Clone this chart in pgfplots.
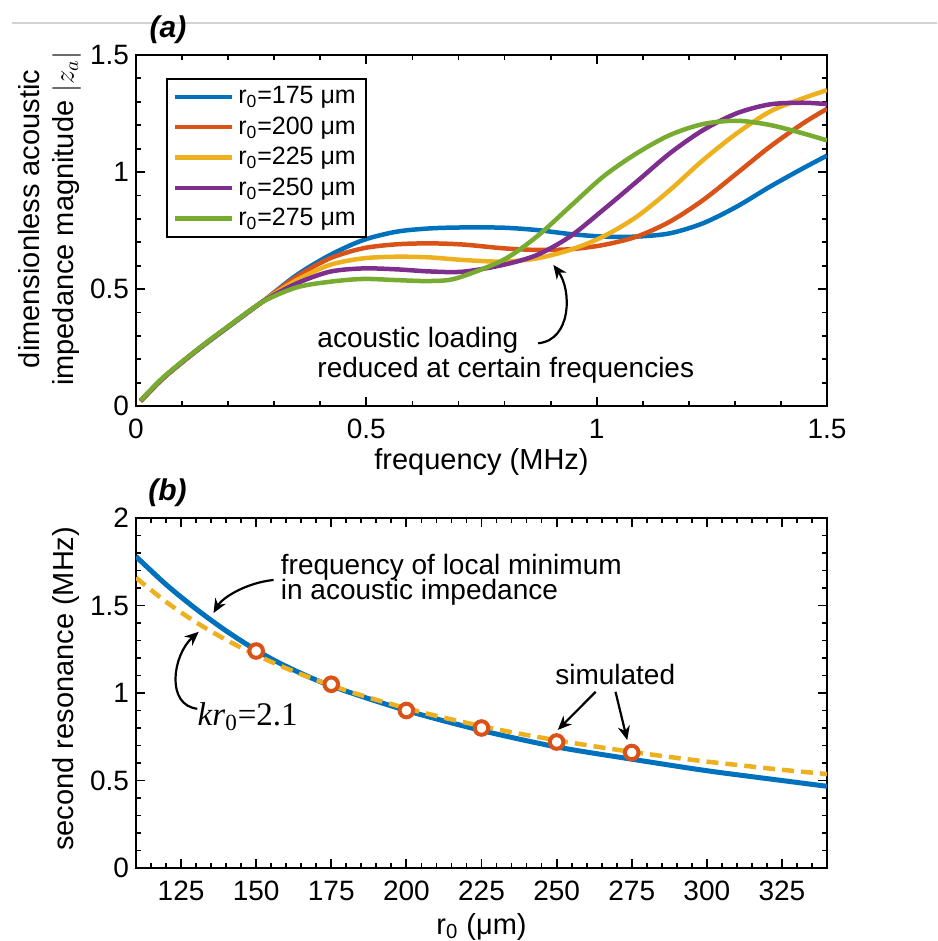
\documentclass[border=0pt]{standalone}
\usepackage{fontspec}
\setmainfont{Liberation Sans}
\newfontfamily\serifface{Liberation Serif}
\usepackage{pgfplots}
\pgfplotsset{compat=1.18}
\usetikzlibrary{arrows.meta}
\definecolor{mblue}{rgb}{0,0.447,0.741}
\definecolor{mred}{rgb}{0.85,0.325,0.098}
\definecolor{myellow}{rgb}{0.929,0.694,0.125}
\definecolor{mpurple}{rgb}{0.494,0.184,0.556}
\definecolor{mgreen}{rgb}{0.466,0.674,0.188}
\pgfplotsset{
  myaxis/.style={
    scale only axis, width=345.5pt,
    axis line style={line width=0.9pt},
    every tick/.style={black, line width=0.9pt},
    major tick length=4.5pt, minor tick length=2.5pt,
    tick align=inside,
    /pgf/number format/assume math mode=true,
    tick label style={font=\fontsize{14}{16}\selectfont},
    xticklabel style={yshift=-3pt},
    label style={font=\fontsize{14.5}{17}\selectfont},
  }
}
\tikzset{annarrow/.style={line width=1.1pt, -{Stealth[length=7pt,width=6pt]}}}
\begin{document}
\begin{tikzpicture}
\path[use as bounding box] (0pt,0pt) rectangle (468.5pt,-470.5pt);
\draw[gray!35, line width=0.6pt] (6pt,-11.5pt) -- (468.5pt,-11.5pt);
\node[font=\fontsize{15}{17}\selectfont\bfseries\itshape] at (84pt,-14.75pt) {(a)};
\node[font=\fontsize{15}{17}\selectfont\bfseries\itshape] at (83.75pt,-246.25pt) {(b)};

\begin{axis}[myaxis, at={(68pt,-203pt)}, anchor=south west, height=175.5pt,
  xmin=0, xmax=1.5, ymin=0, ymax=1.5,
  xtick={0,0.5,1,1.5}, ytick={0,0.5,1,1.5},
  minor xtick={0.1,0.2,0.3,0.4,0.6,0.7,0.8,0.9,1.1,1.2,1.3,1.4},
  minor ytick={0.1,0.2,0.3,0.4,0.6,0.7,0.8,0.9,1.1,1.2,1.3,1.4},
  xlabel={frequency (MHz)},
  ylabel={dimensionless acoustic\\impedance magnitude $|z_a|$},
  ylabel style={align=center, at={(axis description cs:-0.1245,0.533)}, anchor=center},
  xlabel style={at={(axis description cs:0.5,-0.1595)}, anchor=center},
  legend style={at={(rel axis cs:0.0434,0.9345)}, anchor=north west, draw=black, line width=0.8pt,
    font=\fontsize{12.5}{14}\selectfont, inner xsep=3pt, inner ysep=2pt, row sep=1pt},
  legend cell align=left,
  legend image code/.code={\draw[#1, line width=2.25pt] (0pt,0pt) -- (28.5pt,0pt);},
  every axis plot/.append style={line width=2.25pt},
]
\addplot[mblue, smooth] coordinates {(0.01,0.02) (0.06,0.12) (0.132,0.236) (0.204,0.343) (0.276,0.448) (0.349,0.560) (0.421,0.645) (0.493,0.709) (0.566,0.745) (0.638,0.759) (0.710,0.763) (0.797,0.762) (0.870,0.752) (0.942,0.735) (1.014,0.724) (1.087,0.724) (1.159,0.738) (1.231,0.781) (1.304,0.852) (1.376,0.937) (1.448,1.016) (1.5,1.07)};
\addlegendentry{r\textsubscript{0}=175 μm}
\addplot[mred, smooth] coordinates {(0.01,0.02) (0.06,0.12) (0.132,0.237) (0.204,0.344) (0.276,0.448) (0.349,0.553) (0.421,0.631) (0.493,0.674) (0.566,0.691) (0.638,0.695) (0.710,0.690) (0.797,0.674) (0.870,0.667) (0.942,0.670) (1.014,0.688) (1.087,0.724) (1.159,0.788) (1.231,0.880) (1.304,0.994) (1.376,1.108) (1.448,1.208) (1.5,1.27)};
\addlegendentry{r\textsubscript{0}=200 μm}
\addplot[myellow, smooth] coordinates {(0.01,0.02) (0.06,0.121) (0.132,0.238) (0.204,0.345) (0.276,0.448) (0.349,0.538) (0.421,0.603) (0.493,0.631) (0.566,0.638) (0.638,0.635) (0.710,0.624) (0.797,0.617) (0.870,0.631) (0.942,0.667) (1.014,0.724) (1.087,0.809) (1.159,0.923) (1.231,1.051) (1.304,1.165) (1.376,1.258) (1.448,1.315) (1.5,1.35)};
\addlegendentry{r\textsubscript{0}=225 μm}
\addplot[mpurple, smooth] coordinates {(0.01,0.022) (0.06,0.122) (0.132,0.239) (0.204,0.345) (0.276,0.447) (0.349,0.524) (0.421,0.574) (0.493,0.588) (0.566,0.584) (0.638,0.575) (0.710,0.574) (0.797,0.603) (0.870,0.645) (0.942,0.724) (1.014,0.838) (1.087,0.959) (1.159,1.080) (1.231,1.179) (1.304,1.251) (1.376,1.289) (1.448,1.296) (1.5,1.29)};
\addlegendentry{r\textsubscript{0}=250 μm}
\addplot[mgreen, smooth] coordinates {(0.01,0.024) (0.06,0.124) (0.132,0.24) (0.204,0.346) (0.276,0.446) (0.349,0.507) (0.421,0.531) (0.493,0.543) (0.566,0.538) (0.638,0.534) (0.696,0.546) (0.797,0.624) (0.870,0.724) (0.942,0.852) (1.014,0.980) (1.087,1.080) (1.159,1.158) (1.231,1.205) (1.304,1.219) (1.376,1.201) (1.448,1.165) (1.5,1.135)};
\addlegendentry{r\textsubscript{0}=275 μm}
\node[anchor=base west, inner sep=0, font=\fontsize{14}{16}\selectfont] at (axis cs:0.393,0.251) {acoustic loading};
\node[anchor=base west, inner sep=0, font=\fontsize{14}{16}\selectfont] at (axis cs:0.393,0.123) {reduced at certain frequencies};
\draw[annarrow] (axis cs:0.873,0.268) .. controls (axis cs:0.946,0.282) and (axis cs:0.946,0.496) .. (axis cs:0.906,0.603);
\end{axis}

\begin{axis}[myaxis, at={(68pt,-434pt)}, anchor=south west, height=175pt,
  xmin=110, xmax=340, ymin=0, ymax=2,
  xtick={125,150,...,325}, ytick={0,0.5,1,1.5,2},
  minor xtick={110,115,...,340},
  minor ytick={0.1,0.2,0.3,0.4,0.6,0.7,0.8,0.9,1.1,1.2,1.3,1.4,1.6,1.7,1.8,1.9},
  xlabel={r\textsubscript{0} (μm)},
  ylabel={second resonance (MHz)},
  ylabel style={at={(axis description cs:-0.102,0.512)}, anchor=center},
  xlabel style={at={(axis description cs:0.5,-0.168)}, anchor=center},
]
\addplot[mblue, line width=2.5pt, smooth] coordinates {(110,1.78) (120,1.62) (130,1.48) (140,1.355) (150,1.245) (160,1.152) (175,1.04) (200,0.90) (225,0.786) (250,0.692) (275,0.622) (300,0.556) (325,0.50) (340,0.467)};
\addplot[myellow, line width=2.25pt, dash pattern=on 6pt off 3.5pt, smooth] coordinates {(110,1.659) (120,1.521) (130,1.404) (140,1.304) (150,1.217) (160,1.141) (170,1.074) (180,1.014) (190,0.961) (200,0.913) (210,0.869) (220,0.830) (230,0.793) (240,0.760) (250,0.730) (260,0.702) (270,0.676) (280,0.652) (290,0.629) (300,0.608) (310,0.589) (320,0.570) (330,0.553) (340,0.537)};
\addplot[only marks, mark=*, mark size=3.4pt, mark options={draw=mred, fill=white, line width=2pt}] coordinates {(150,1.24) (175,1.05) (200,0.90) (225,0.80) (250,0.72) (275,0.66)};
\node[anchor=base west, inner sep=0, font=\fontsize{14}{16}\selectfont] at (axis cs:158.1,1.68) {frequency of local minimum};
\node[anchor=base west, inner sep=0, font=\fontsize{14}{16}\selectfont] at (axis cs:158.1,1.537) {in acoustic impedance};
\draw[annarrow] (axis cs:155.8,1.646) .. controls (axis cs:146.4,1.629) and (axis cs:138.7,1.543) .. (axis cs:135.8,1.457);
\node[anchor=base west, inner sep=0, font=\fontsize{16.5}{19}\selectfont\serifface] at (axis cs:130.4,0.817) {\textit{kr}\textsubscript{0}=2.1};
\draw[annarrow] (axis cs:130.4,0.91) .. controls (axis cs:119.8,0.931) and (axis cs:122.2,1.217) .. (axis cs:130.9,1.35);
\node[anchor=base, inner sep=0, font=\fontsize{14}{16}\selectfont] at (axis cs:269.5,1.051) {simulated};
\draw[annarrow] (axis cs:263.0,1.007) -- (axis cs:250.4,0.789);
\draw[annarrow] (axis cs:269.6,1.007) -- (axis cs:273.5,0.731);
\end{axis}
\end{tikzpicture}
\end{document}
